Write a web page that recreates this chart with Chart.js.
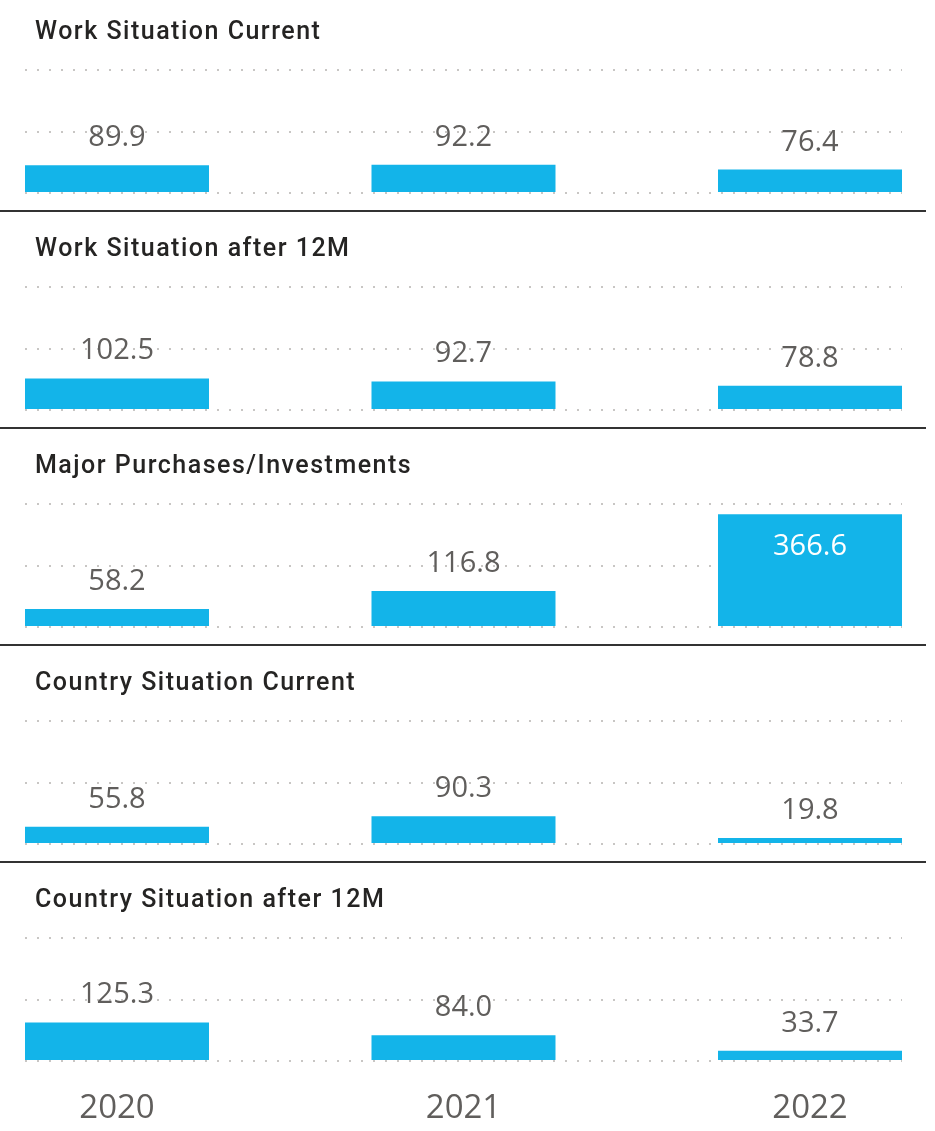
<!DOCTYPE html>
<html>
<head>
<meta charset="utf-8">
<script src="https://cdn.jsdelivr.net/npm/chart.js@4"></script>
<style>
  body { margin: 0; background: #fff; }
  #wrap { position: relative; width: 935px; height: 1131px; overflow: hidden; }
  .panel { position: absolute; left: 0; width: 935px; }
  .title {
    position: absolute; left: 35px; top: 16px;
    font: 500 25px Roboto; line-height: 30px; letter-spacing: 1.5px;
    color: #252423; white-space: nowrap;
  }
  .sep { position: absolute; left: 0; width: 926px; height: 2px; background: #333; }
  canvas { display: block; }
</style>
</head>
<body>
<div id="wrap"></div>
<script>
const years = ["2020", "2021", "2022"];
const titles = [
  "Work Situation Current",
  "Work Situation after 12M",
  "Major Purchases/Investments",
  "Country Situation Current",
  "Country Situation after 12M",
];
const workCurrent = [89.9, 92.2, 76.4];
const workAfter12M = [102.5, 92.7, 78.8];
const majorPurchases = [58.2, 116.8, 366.6];
const countryCurrent = [55.8, 90.3, 19.8];
const countryAfter12M = [125.3, 84.0, 33.7];
const yTicks = [0, 200, 400];

const series = [workCurrent, workAfter12M, majorPurchases, countryCurrent, countryAfter12M];

// value labels, above the bar or inside it when there's no room above
const valueLabels = {
  id: "valueLabels",
  afterDatasetsDraw(chart) {
    const ctx = chart.ctx;
    const meta = chart.getDatasetMeta(0);
    const points = chart.data.datasets[0].data;
    ctx.save();
    ctx.font = "29px 'Open Sans'";
    ctx.textAlign = "center";
    ctx.textBaseline = "alphabetic";
    meta.data.forEach((bar, i) => {
      const text = points[i].y.toFixed(1);
      const above = bar.y - 19;
      if (above - 21 < chart.chartArea.top) {
        ctx.fillStyle = "#fff";
        ctx.fillText(text, bar.x, bar.y + 41);
      } else {
        ctx.fillStyle = "#605E5C";
        ctx.fillText(text, bar.x, above);
      }
    });
    ctx.restore();
  },
};

const wrap = document.getElementById("wrap");

series.forEach((values, i) => {
  const last = i === series.length - 1;
  const panel = document.createElement("div");
  panel.className = "panel";
  panel.style.top = 217 * i + "px";
  panel.style.height = (last ? 263 : 217) + "px";

  const canvas = document.createElement("canvas");
  canvas.width = 935;
  canvas.height = last ? 263 : 217;
  panel.appendChild(canvas);

  const title = document.createElement("div");
  title.className = "title";
  title.textContent = titles[i];
  panel.appendChild(title);
  wrap.appendChild(panel);

  if (!last) {
    const sep = document.createElement("div");
    sep.className = "sep";
    sep.style.top = 217 * i + 210 + "px";
    wrap.appendChild(sep);
  }

  drawChart(canvas, values, last);
});

function drawChart(canvas, values, showYears) {
  const data = {
    datasets: [
      {
        data: values.map((v, i) => ({ x: i, y: v })),
        backgroundColor: "#13B4E9",
        categoryPercentage: 1,
        barPercentage: 0.531,
      },
    ],
  };

  const config = {
    type: "bar",
    data,
    options: {
      responsive: false,
      animation: false,
      layout: { padding: { left: 25, right: 33, top: 70, bottom: showYears ? 4 : 24 } },
      plugins: {
        legend: { display: false },
        tooltip: { enabled: false },
      },
      scales: {
        x: {
          type: "linear",
          offset: false,
          min: -0.2655,
          max: 2.2655,
          display: showYears,
          afterBuildTicks: (axis) => {
            axis.ticks = years.map((_, i) => ({ value: i }));
          },
          afterFit: (axis) => {
            axis.height = showYears ? 66 : 0;
          },
          grid: { display: false, drawTicks: false, offset: false },
          border: { display: false },
          ticks: {
            padding: 28,
            color: "#605E5C",
            font: { family: "'Open Sans'", size: 33 },
            callback: (v) => years[v],
          },
        },
        y: {
          min: yTicks[0],
          max: yTicks[yTicks.length - 1],
          afterBuildTicks: (axis) => {
            axis.ticks = yTicks.map((v) => ({ value: v }));
          },
          ticks: { display: false },
          grid: { color: "#C8C6C4", lineWidth: 2, drawTicks: false },
          border: { display: false, dash: [2, 10] },
        },
      },
    },
    plugins: [valueLabels],
  };

  new Chart(canvas, config);
}
</script>
</body>
</html>
